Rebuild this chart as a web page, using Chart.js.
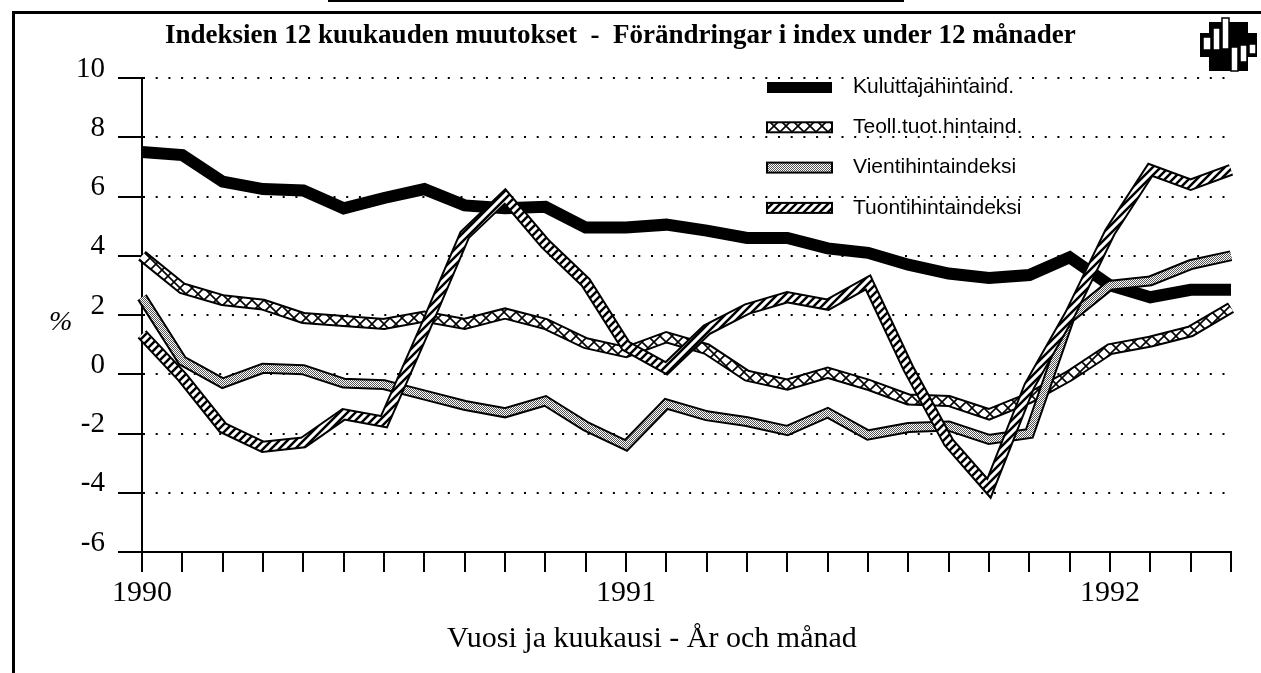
<!DOCTYPE html>
<html>
<head>
<meta charset="utf-8">
<title>Indeksien 12 kuukauden muutokset</title>
<script src="https://cdn.jsdelivr.net/npm/chart.js@4.4.1/dist/chart.umd.min.js"></script>
<style>
  html, body { margin: 0; padding: 0; background: #fff; }
  #wrap { position: relative; width: 1261px; height: 673px; }
</style>
</head>
<body>
<div id="wrap"><canvas id="chart"></canvas></div>
<script>
// months Jan 1990 .. Apr 1992
const months = [
  "1990-01", "1990-02", "1990-03", "1990-04", "1990-05", "1990-06",
  "1990-07", "1990-08", "1990-09", "1990-10", "1990-11", "1990-12",
  "1991-01", "1991-02", "1991-03", "1991-04", "1991-05", "1991-06",
  "1991-07", "1991-08", "1991-09", "1991-10", "1991-11", "1991-12",
  "1992-01", "1992-02", "1992-03", "1992-04",
];
const yearTicks = ["1990", "1991", "1992"];

const seriesNames = [
  "Kuluttajahintaind.",
  "Teoll.tuot.hintaind.",
  "Vientihintaindeksi",
  "Tuontihintaindeksi",
];

const kuluttaja = [7.5, 7.4, 6.5, 6.25, 6.2, 5.6, 5.95, 6.25, 5.7, 5.6, 5.65, 4.95,
  4.95, 5.05, 4.85, 4.6, 4.6, 4.25, 4.1, 3.7, 3.4, 3.25, 3.35, 3.95,
  3.0, 2.6, 2.85, 2.85];
const teoll = [4.0, 2.9, 2.5, 2.35, 1.9, 1.8, 1.7, 1.95, 1.7, 2.05, 1.7, 1.05,
  0.75, 1.25, 0.85, -0.05, -0.35, 0.05, -0.35, -0.85, -0.9, -1.35, -0.8, -0.05,
  0.85, 1.1, 1.45, 2.25];
const vienti = [2.6, 0.45, -0.3, 0.2, 0.15, -0.3, -0.35, -0.7, -1.05, -1.3, -0.9, -1.75,
  -2.4, -1.0, -1.4, -1.6, -1.9, -1.3, -2.05, -1.8, -1.75, -2.2, -2.0, 1.9,
  3.0, 3.15, 3.7, 4.0];
const tuonti = [1.35, -0.1, -1.8, -2.45, -2.3, -1.35, -1.6, 1.5, 4.7, 6.0, 4.4, 3.1,
  0.95, 0.2, 1.5, 2.2, 2.6, 2.35, 3.1, 0.2, -2.3, -3.85, -0.4, 2.0,
  4.8, 6.9, 6.4, 6.9];

const titleText = "Indeksien 12 kuukauden muutokset  -  Förändringar i index under 12 månader";
const xTitleText = "Vuosi ja kuukausi - År och månad";
const yTitleText = "%";

const serif = '"Liberation Serif", "Times New Roman", serif';
const sans = '"Liberation Sans", Arial, sans-serif';

// fill patterns for the ribbons
function makePattern(size, draw) {
  const c = document.createElement("canvas");
  c.width = size;
  c.height = size;
  const g = c.getContext("2d");
  g.fillStyle = "#fff";
  g.fillRect(0, 0, size, size);
  g.strokeStyle = "#000";
  g.fillStyle = "#000";
  draw(g);
  return g.createPattern(c, "repeat");
}

const crossPat = makePattern(12, (g) => {
  g.lineWidth = 1.6;
  g.beginPath();
  g.moveTo(0, 0); g.lineTo(12, 12);
  g.moveTo(12, 0); g.lineTo(0, 12);
  g.stroke();
});
const dotPat = makePattern(2, (g) => {
  g.fillStyle = "#555";
  g.fillRect(0, 0, 1, 1);
  g.fillRect(1, 1, 1, 1);
});
const hatchPat = makePattern(8, (g) => {
  g.lineWidth = 2.5;
  g.beginPath();
  g.moveTo(0, 8); g.lineTo(8, 0);
  g.moveTo(-4, 4); g.lineTo(4, -4);
  g.moveTo(4, 12); g.lineTo(12, 4);
  g.stroke();
});

const lineBase = {
  pointRadius: 0,
  pointHoverRadius: 0,
  tension: 0,
  fill: false,
  borderJoinStyle: "miter",
  borderCapStyle: "butt",
};

// drawn behind: frame; drawn on top: titles, legend, logo
const decor = {
  id: "decor",
  beforeDraw(chart) {
    const ctx = chart.ctx;
    ctx.save();
    ctx.fillStyle = "#000";
    ctx.fillRect(12, 11, 3, 662);
    ctx.fillRect(12, 11, 1249, 3);
    ctx.fillRect(328, 0, 576, 2);
    ctx.restore();
  },
  afterDraw(chart) {
    const ctx = chart.ctx;
    ctx.save();
    ctx.fillStyle = "#000";
    ctx.textBaseline = "alphabetic";
    ctx.textAlign = "left";

    ctx.font = "bold 27px " + serif;
    ctx.fillText(titleText, 165, 43);

    ctx.font = "30px " + serif;
    ctx.fillText(xTitleText, 447, 647);

    ctx.font = "italic 28px " + serif;
    ctx.fillText(yTitleText, 49, 330);

    // legend
    const fills = ["#000", crossPat, dotPat, hatchPat];
    ctx.font = "21px " + sans;
    ctx.textBaseline = "middle";
    seriesNames.forEach((name, i) => {
      const y = 82 + i * 40.3;
      ctx.fillStyle = fills[i];
      if (i === 0) {
        ctx.fillRect(767, y, 65, 11);
      } else {
        ctx.fillRect(767, y, 65, 10);
        ctx.lineWidth = 2;
        ctx.strokeStyle = "#000";
        ctx.strokeRect(767, y, 65, 10);
      }
      ctx.fillStyle = "#000";
      ctx.fillText(name, 853, y + 5);
    });

    // logo
    ctx.fillStyle = "#000";
    ctx.fillRect(1209, 22, 39, 49);
    ctx.fillRect(1200, 33, 57, 24);
    ctx.lineWidth = 1.5;
    ctx.strokeStyle = "#000";
    [[1203, 37, 8, 13], [1213, 28, 7, 22], [1222, 18, 7, 31],
     [1231, 47, 7, 24], [1240, 45, 7, 17], [1249, 44, 7, 10]].forEach((r) => {
      ctx.fillStyle = "#fff";
      ctx.fillRect(r[0], r[1], r[2], r[3]);
      ctx.strokeRect(r[0], r[1], r[2], r[3]);
    });
    ctx.restore();
  },
};

const ctx = document.getElementById("chart");

new Chart(ctx, {
  type: "line",
  data: {
    labels: months,
    datasets: [
      { ...lineBase, label: seriesNames[0], data: kuluttaja, borderColor: "#000", borderWidth: 12, order: 10 },
      { ...lineBase, label: seriesNames[1], data: teoll, borderColor: "#000", borderWidth: 12, order: 9 },
      { ...lineBase, label: seriesNames[1], data: teoll, borderColor: crossPat, borderWidth: 8, order: 8 },
      { ...lineBase, label: seriesNames[2], data: vienti, borderColor: "#000", borderWidth: 11, order: 7 },
      { ...lineBase, label: seriesNames[2], data: vienti, borderColor: dotPat, borderWidth: 7, order: 6 },
      { ...lineBase, label: seriesNames[3], data: tuonti, borderColor: "#000", borderWidth: 12, order: 5 },
      { ...lineBase, label: seriesNames[3], data: tuonti, borderColor: hatchPat, borderWidth: 8, order: 4 },
    ],
  },
  options: {
    animation: false,
    responsive: true,
    maintainAspectRatio: false,
    events: [],
    layout: {
      padding: { top: 78, right: 30, bottom: 0, left: 0 },
    },
    plugins: {
      legend: { display: false },
      title: { display: false },
      tooltip: { enabled: false },
    },
    scales: {
      x: {
        type: "category",
        offset: false,
        grid: {
          drawOnChartArea: false,
          color: "#000",
          lineWidth: 2,
          tickLength: 20,
        },
        border: { color: "#000", width: 2 },
        ticks: {
          autoSkip: false,
          maxRotation: 0,
          padding: 3,
          color: "#000",
          font: { family: serif, size: 30 },
          callback: (value, index) => (index % 12 === 0 ? yearTicks[index / 12] : ""),
        },
        afterFit: (scale) => {
          scale.height = 121;
        },
      },
      y: {
        min: -6,
        max: 10,
        ticks: {
          stepSize: 2,
          padding: 13,
          labelOffset: -9,
          color: "#000",
          font: { family: serif, size: 29 },
        },
        grid: {
          color: "#000",
          lineWidth: 2,
          tickLength: 24,
          tickColor: "#000",
          tickWidth: 2,
          tickBorderDash: [],
        },
        border: { color: "#000", width: 2, dash: [2, 10.7] },
        afterFit: (scale) => {
          scale.width = 142;
        },
      },
    },
  },
  plugins: [decor],
});
</script>
</body>
</html>
